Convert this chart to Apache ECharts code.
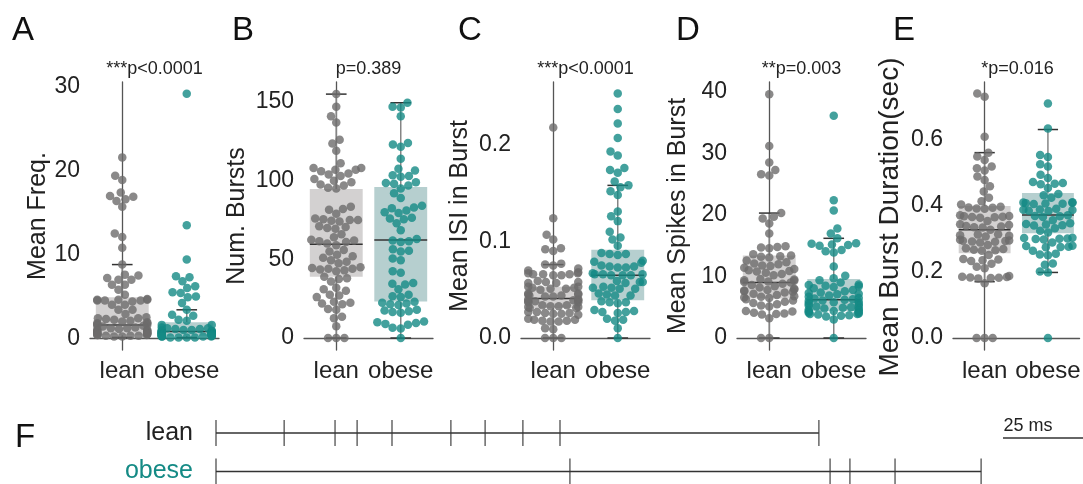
<!DOCTYPE html>
<html><head><meta charset="utf-8">
<script src="https://cdn.jsdelivr.net/npm/echarts@6/dist/echarts.min.js"></script>
<style>html,body{margin:0;padding:0;background:#fff}#c{width:1083px;height:484px}</style>
</head><body><div id="c"></div><script>
// ---------------- data ----------------
const categories = ['lean', 'obese'];

const meanFreqLean = [21.6, 19.4, 18.9, 17.4, 17.0, 16.9, 16.6, 16.4, 15.7, 12.5, 12.1, 10.8, 8.8, 7.6, 7.5, 7.2, 7.0, 7.0, 6.4, 6.4, 5.8, 5.2,
  4.7, 4.6, 4.6, 4.6, 4.5, 4.5, 4.5, 4.4, 4.0, 4.0, 3.4, 3.4, 2.9,
  2.5, 2.4, 2.4, 2.3, 2.2, 2.1, 2.0, 1.9, 1.8, 1.8, 1.7, 1.6, 1.5, 1.5, 1.4, 1.3, 1.2, 1.2, 1.1, 1.0, 1.0, 0.9, 0.9, 0.8, 0.8,
  0.7, 0.7, 0.6, 0.6, 0.5, 0.5, 0.5, 0.4, 0.4, 0.4, 0.3, 0.3, 0.3, 0.2, 0.2];
const meanFreqObese = [29.2, 13.5, 9.4, 7.4, 7.3, 6.8, 6.2, 6.0, 5.5, 5.4, 5.0, 4.9, 4.2, 3.4, 2.8, 2.7, 2.2, 2.1, 1.6, 1.6,
  1.3, 1.2, 1.2, 1.1, 1.1, 1.0, 1.0, 0.9, 0.9, 0.9, 0.8, 0.8, 0.8, 0.7, 0.7, 0.7, 0.6, 0.6, 0.6, 0.6,
  0.5, 0.5, 0.5, 0.5, 0.4, 0.4, 0.4, 0.4, 0.3, 0.3, 0.3, 0.3, 0.2, 0.2, 0.2, 0.2, 0.1, 0.1, 0.1, 0.1];

const numBurstsLean = [155, 147, 141, 137, 126, 123.6, 119, 111, 108, 108, 107, 107, 106, 104.6, 104, 103, 101, 100, 99, 97.6, 97, 95.5, 95,
  83.5, 82, 81.5, 79, 76, 75.5, 75, 75, 74.5, 74, 71, 70.5, 70, 69.5, 66, 64, 62.5, 62, 61.5, 61, 60, 59, 56, 55, 53, 52, 51,
  49.5, 48.5, 47.5, 45, 44.5, 44, 44, 43.5, 43, 42.5, 39, 38, 37.5, 36, 32, 31, 30, 27.5, 27, 26, 23, 22.5, 22, 21.5,
  18.5, 18, 13.5, 12.5, 7.5, 0, 0, 0];
const numBurstsObese = [149.5, 147, 146.5, 141, 124, 123, 121.5, 114, 107.5, 106.5, 103.5, 103, 102.5, 99, 98.5, 98, 97, 95, 92, 89,
  84, 83, 82.5, 81, 80, 79.5, 76.5, 76, 75.5, 73, 68.5, 63, 62, 61.5, 61, 56.5, 55.5, 55, 50.5, 49.5, 42.5, 41.5,
  35, 34.5, 34, 31, 27.5, 26.5, 26, 23, 22.5, 22, 21.5, 21, 18, 17.5, 17, 16.5, 16, 10.5, 10, 9.5, 9, 8.5, 6.5, 6, 0];

const isiLean = [0.218, 0.124, 0.107, 0.102, 0.093, 0.092, 0.090, 0.077, 0.076, 0.075, 0.072, 0.070,
  0.068, 0.067, 0.067, 0.066, 0.066, 0.066, 0.065, 0.065, 0.059, 0.058, 0.058, 0.057, 0.057,
  0.053, 0.053, 0.052, 0.052, 0.051, 0.051, 0.050, 0.046, 0.046, 0.045, 0.045, 0.044, 0.044, 0.043, 0.043,
  0.040, 0.040, 0.039, 0.039, 0.038, 0.038, 0.037, 0.037, 0.034, 0.034, 0.033, 0.033, 0.032, 0.032, 0.031, 0.031,
  0.027, 0.027, 0.026, 0.026, 0.025, 0.025, 0.024, 0.020, 0.019, 0.019, 0.018, 0.018, 0.017, 0.017, 0.010, 0.009, 0, 0, 0];
const isiObese = [0.253, 0.237, 0.222, 0.207, 0.193, 0.189, 0.176, 0.174, 0.171, 0.162, 0.158, 0.156, 0.152, 0.148, 0.131, 0.126, 0.121,
  0.110, 0.104, 0.102, 0.0955, 0.088, 0.087, 0.087, 0.086, 0.080, 0.079, 0.078, 0.075, 0.074, 0.074, 0.073, 0.073,
  0.067, 0.066, 0.066, 0.066, 0.065, 0.065, 0.065, 0.059, 0.058, 0.058, 0.057, 0.053, 0.052, 0.052, 0.051, 0.051,
  0.046, 0.045, 0.044, 0.044, 0.038, 0.037, 0.037, 0.036, 0.029, 0.028, 0.027, 0.027, 0.026, 0.020, 0.019, 0.018, 0.010, 0];

const spikesLean = [39.6, 31.2, 28.5, 27.3, 26.6, 26.4, 20.3, 19.7, 19.4, 18.6, 17.0, 14.9, 14.8, 14.7, 14.6, 13.6, 13.4, 13.3, 13.2, 13.1,
  12.6, 12.3, 12.1, 12.0, 11.8, 11.7, 11.4, 11.2, 11.0, 10.9, 10.8, 10.6, 10.4, 10.2, 9.6, 9.5, 9.4, 9.3, 9.2, 9.1, 9.0,
  8.8, 8.6, 8.4, 8.2, 8.0, 7.9, 7.8, 7.7, 7.6, 7.5, 7.4, 7.2, 7.0, 6.8, 6.7, 6.6, 6.5, 6.3, 6.1, 5.9, 5.7, 5.5, 5.3, 5.1,
  4.4, 4.3, 4.1, 4.0, 3.9, 3.8, 3.2, 0, 0];
const spikesObese = [36.1, 22.4, 20.7, 17.8, 17.0, 16.2, 15.4, 15.3, 15.2, 15.1, 15.0, 14.3, 14.1, 13.9, 11.6, 10.1, 9.7, 9.4, 9.0,
  8.7, 8.6, 8.5, 8.4, 8.3, 8.1, 7.8, 7.6, 7.4, 7.3, 7.2, 7.1, 6.9, 6.7, 6.5, 6.4, 6.3, 6.2, 6.1, 6.0, 5.9, 5.8, 5.6, 5.5,
  5.3, 5.2, 5.1, 5.0, 4.9, 4.8, 4.7, 4.6, 4.5, 4.4, 4.3, 4.2, 4.1, 4.0, 3.9, 3.9, 3.8, 3.7, 3.6, 3.5, 3.0, 0];

const durLean = [0.741, 0.731, 0.61, 0.562, 0.55, 0.54, 0.52, 0.515, 0.508, 0.49, 0.479, 0.46, 0.444, 0.425, 0.415, 0.405,
  0.398, 0.396, 0.395, 0.393, 0.392, 0.372, 0.370, 0.369, 0.368, 0.367, 0.366, 0.365, 0.355, 0.345, 0.343, 0.340, 0.338, 0.336, 0.335,
  0.328, 0.315, 0.314, 0.312, 0.310, 0.308, 0.298, 0.296, 0.295, 0.294, 0.293, 0.292, 0.290, 0.282, 0.272, 0.270, 0.268, 0.266, 0.265,
  0.252, 0.240, 0.238, 0.236, 0.234, 0.225, 0.216, 0.212, 0.188, 0.186, 0.185, 0.184, 0.183, 0.182, 0.181, 0.166, 0, 0, 0];
const durObese = [0.711, 0.635, 0.555, 0.549, 0.527, 0.52, 0.495, 0.485, 0.473, 0.47, 0.468, 0.466, 0.455, 0.437, 0.433, 0.425,
  0.412, 0.411, 0.410, 0.409, 0.408, 0.407, 0.406, 0.392, 0.390, 0.389, 0.388, 0.386, 0.385, 0.372, 0.370, 0.369, 0.367, 0.357,
  0.348, 0.346, 0.344, 0.342, 0.341, 0.333, 0.325, 0.320, 0.304, 0.303, 0.302, 0.301, 0.300, 0.299, 0.29, 0.28, 0.279, 0.277, 0.276, 0.275,
  0.265, 0.256, 0.253, 0.251, 0.226, 0.222, 0.202, 0.199, 0];

// box stats: [lower whisker, Q1, median, Q3, upper whisker]
const boxMeanFreq = [[0.1, 0.35, 1.6, 4.9, 8.8], [0.1, 0.3, 0.8, 1.9, 3.4]];
const boxNumBursts = [[0, 39, 59.6, 94.7, 155], [0, 23.2, 62.3, 96, 149.5]];
const boxIsi = [[0, 0.031, 0.041, 0.053, 0.076], [0, 0.039, 0.065, 0.0914, 0.158]];
const boxSpikes = [[0, 6.4, 9.0, 13.4, 20.3], [0, 4.4, 6.2, 9.6, 16.2]];
const boxDur = [[0.171, 0.257, 0.328, 0.40, 0.562], [0.199, 0.318, 0.373, 0.44, 0.632]];

const ticksMeanFreq = [0, 10, 20, 30];
const ticksNumBursts = [0, 50, 100, 150];
const ticksIsi = [0.0, 0.1, 0.2];
const ticksSpikes = [0, 10, 20, 30, 40];
const ticksDur = [0.0, 0.2, 0.4, 0.6];

const pLabels = ['***p<0.0001', 'p=0.389', '***p<0.0001', '**p=0.003', '*p=0.016'];
const yNames = ['Mean Freq.', 'Num. Bursts', 'Mean ISI in Burst', 'Mean Spikes in Burst', 'Mean Burst Duration(sec)'];
const panelLetters = ['A', 'B', 'C', 'D', 'E'];

// panel F: spike times (ms)
const rasterNames = ['lean', 'obese'];
const spikesLeanMs = [0, 21.3, 37.2, 44.1, 55.0, 73.4, 84.1, 95.9, 107.5, 188.4];
const spikesObeseMs = [0, 110.6, 191.9, 198.1, 212.2, 239.1];
const scaleBarMs = 25;

// ---------------- layout & style ----------------
const FONT = '"Liberation Sans", Arial, Helvetica, sans-serif';
const LEAN = '#6d6c6c', OBESE = '#148a85';
const LEAN_BOX = '#d3d1d1', OBESE_BOX = '#b6cfcf';
const AXIS = '#555555', TEXT = '#222222';
const gridLeft = [90, 304, 521, 737, 953];
const GRID_TOP = 82, GRID_H = 268, GRID_W = 129;
const yNamePos = [[38, 216], [237, 216], [460, 216], [678, 216], [890, 217]];
const yNameSize = [25, 25, 25, 25, 28];
const letterX = [12, 232, 458, 676, 893];
const DOT = 8.5, DOT_GAP = 8.2, SWARM_HALF = 25, BOX_HALF = 0.41, CAP_HALF = 0.16;

const panels = [
  { lean: meanFreqLean, obese: meanFreqObese, box: boxMeanFreq, ticks: ticksMeanFreq, min: -1.4, max: 30.6, split: 3, dec: 0 },
  { lean: numBurstsLean, obese: numBurstsObese, box: boxNumBursts, ticks: ticksNumBursts, min: -7.6, max: 162.7, split: 3, dec: 0 },
  { lean: isiLean, obese: isiObese, box: boxIsi, ticks: ticksIsi, min: -0.0124, max: 0.265, split: 3, dec: 1 },
  { lean: spikesLean, obese: spikesObese, box: boxSpikes, ticks: ticksSpikes, min: -1.95, max: 41.6, split: 4, dec: 0 },
  { lean: durLean, obese: durObese, box: boxDur, ticks: ticksDur, min: -0.036, max: 0.776, split: 4, dec: 1 }
];

// beeswarm layout (pixel space) -> offsets in px
function swarm(values, pxPerY) {
  const order = values.map((v, i) => i).sort((a, b) => values[a] - values[b]);
  const placed = [];
  const out = new Array(values.length);
  const d2 = DOT_GAP * DOT_GAP;
  for (const i of order) {
    const y = values[i] * pxPerY;
    const near = placed.filter(p => Math.abs(p.y - y) < DOT_GAP);
    const cands = [0];
    near.forEach(p => {
      const dx = Math.sqrt(Math.max(0, d2 - (p.y - y) * (p.y - y)));
      cands.push(p.x + dx, p.x - dx);
    });
    cands.sort((a, b) => Math.abs(a) - Math.abs(b) || a - b);
    let chosen = cands[cands.length - 1];
    for (const c of cands) {
      if (near.every(p => (p.x - c) * (p.x - c) + (p.y - y) * (p.y - y) >= d2 - 1e-6)) { chosen = c; break; }
    }
    placed.push({ x: chosen, y });
    out[i] = Math.max(-SWARM_HALF, Math.min(SWARM_HALF, chosen));
  }
  return out;
}

const grids = [], xAxes = [], yAxes = [], series = [];
const pxPerX = GRID_W / 2;

panels.forEach((p, i) => {
  grids.push({ left: gridLeft[i], top: GRID_TOP, width: GRID_W, height: GRID_H });
  xAxes.push({
    type: 'category', gridIndex: i, data: categories, boundaryGap: true,
    axisTick: { show: false },
    axisLine: { lineStyle: { color: AXIS, width: 1.3 } },
    axisLabel: { interval: 0, fontSize: 24, color: TEXT, fontFamily: FONT, margin: 9 }
  });
  xAxes.push({ type: 'value', gridIndex: i, min: -0.5, max: 1.5, show: false });
  yAxes.push({
    type: 'value', gridIndex: i, min: p.min, max: p.max, splitNumber: p.split,
    splitLine: { show: false }, axisTick: { show: false },
    axisLine: { show: true, lineStyle: { color: AXIS, width: 1.3 } },
    axisLabel: {
      fontSize: 23, color: TEXT, fontFamily: FONT, margin: 10, showMinLabel: false, showMaxLabel: false,
      formatter: v => p.ticks.some(t => Math.abs(t - v) < 1e-9) ? v.toFixed(p.dec) : ''
    }
  });
  const pxPerY = GRID_H / (p.max - p.min);
  series.push({
    type: 'custom', xAxisIndex: 2 * i + 1, yAxisIndex: i, z: 1, silent: true,
    data: p.box.map((b, k) => [k].concat(b)),
    renderItem: (params, api) => {
      const x = api.value(0);
      const lo = api.coord([x, api.value(1)]), q1 = api.coord([x, api.value(2)]);
      const med = api.coord([x, api.value(3)]), q3 = api.coord([x, api.value(4)]);
      const hi = api.coord([x, api.value(5)]);
      const left = api.coord([x - BOX_HALF, 0])[0], right = api.coord([x + BOX_HALF, 0])[0];
      const cl = api.coord([x - CAP_HALF, 0])[0], cr = api.coord([x + CAP_HALF, 0])[0];
      const cx = q1[0];
      const fill = x === 0 ? LEAN_BOX : OBESE_BOX;
      const wh = { stroke: '#858585', lineWidth: 1.5 };
      const cap = { stroke: '#333333', lineWidth: 1.5 };
      return {
        type: 'group', children: [
          { type: 'line', shape: { x1: cx, y1: q3[1], x2: cx, y2: hi[1] }, style: wh },
          { type: 'line', shape: { x1: cx, y1: q1[1], x2: cx, y2: lo[1] }, style: wh },
          { type: 'rect', shape: { x: left, y: q3[1], width: right - left, height: q1[1] - q3[1] }, style: { fill: fill } },
          { type: 'line', shape: { x1: left, y1: med[1], x2: right, y2: med[1] }, style: { stroke: '#333333', lineWidth: 1.5 } },
          { type: 'line', shape: { x1: cl, y1: hi[1], x2: cr, y2: hi[1] }, style: cap },
          { type: 'line', shape: { x1: cl, y1: lo[1], x2: cr, y2: lo[1] }, style: cap }
        ]
      };
    }
  });
  [p.lean, p.obese].forEach((vals, k) => {
    const offs = swarm(vals, pxPerY);
    series.push({
      type: 'scatter', xAxisIndex: 2 * i + 1, yAxisIndex: i, z: 3, clip: false,
      symbol: 'circle', symbolSize: DOT,
      itemStyle: { color: k === 0 ? LEAN : OBESE },
      data: vals.map((v, j) => [k + offs[j] / pxPerX, v])
    });
  });
});

// panel F raster
const FI = 5;
const F_PX_PER_MS = 3.2;
const fWidth = 1083 - 216;
const fMaxMs = fWidth / F_PX_PER_MS;
grids.push({ left: 216, top: 433, width: fWidth, height: 40 });
xAxes.push({ type: 'value', gridIndex: FI, min: 0, max: fMaxMs, show: false });
xAxes.push({ type: 'value', gridIndex: FI, min: 0, max: fMaxMs, show: false });
yAxes.push({
  type: 'value', gridIndex: FI, min: 0, max: 1, interval: 1,
  splitLine: { show: false }, axisTick: { show: false }, axisLine: { show: false },
  axisLabel: {
    margin: 23, fontSize: 25, fontFamily: FONT,
    formatter: v => v === 1 ? '{l|' + rasterNames[0] + '}' : (v === 0 ? '{o|' + rasterNames[1] + '}' : ''),
    rich: { l: { color: TEXT, fontSize: 25, fontFamily: FONT }, o: { color: OBESE, fontSize: 25, fontFamily: FONT } }
  }
});
[[spikesLeanMs, 1], [spikesObeseMs, 0]].forEach(([sp, yv]) => {
  series.push({
    type: 'line', xAxisIndex: 2 * FI, yAxisIndex: FI, symbol: 'none', clip: false, silent: true,
    lineStyle: { color: '#333333', width: 1.3 },
    data: [[sp[0], yv], [sp[sp.length - 1], yv]]
  });
  series.push({
    type: 'scatter', xAxisIndex: 2 * FI, yAxisIndex: FI, clip: false, silent: true,
    symbol: 'rect', symbolSize: [1.4, 26], itemStyle: { color: '#333333' },
    data: sp.map(t => [t, yv])
  });
});
series.push({
  type: 'line', xAxisIndex: 2 * FI, yAxisIndex: FI, symbol: 'none', clip: false, silent: true,
  lineStyle: { color: '#333333', width: 1.6 },
  data: [[fMaxMs - scaleBarMs, 0.87], [fMaxMs, 0.87]]
});

// texts
const graphic = [];
panelLetters.forEach((t, i) => graphic.push({
  type: 'text', x: letterX[i], y: 31,
  style: { text: t, fill: '#111111', font: '33px ' + FONT, align: 'left', verticalAlign: 'middle', textAlign: 'left', textVerticalAlign: 'middle' }
}));
pLabels.forEach((t, i) => graphic.push({
  type: 'text', x: gridLeft[i] + GRID_W / 2, y: 69,
  style: { text: t, fill: TEXT, font: '18px ' + FONT, align: 'center', verticalAlign: 'middle', textAlign: 'center', textVerticalAlign: 'middle' }
}));
yNames.forEach((t, i) => graphic.push({
  type: 'text', x: yNamePos[i][0], y: yNamePos[i][1], rotation: Math.PI / 2,
  style: { text: t, fill: TEXT, font: yNameSize[i] + 'px ' + FONT, align: 'center', verticalAlign: 'middle', textAlign: 'center', textVerticalAlign: 'middle' }
}));
graphic.push({
  type: 'text', x: 15, y: 438,
  style: { text: 'F', fill: '#111111', font: '33px ' + FONT, align: 'left', verticalAlign: 'middle', textAlign: 'left', textVerticalAlign: 'middle' }
});
graphic.push({
  type: 'text', x: 1028, y: 426,
  style: { text: scaleBarMs + ' ms', fill: TEXT, font: '18px ' + FONT, align: 'center', verticalAlign: 'middle', textAlign: 'center', textVerticalAlign: 'middle' }
});

const chart = echarts.init(document.getElementById('c'), null, { renderer: 'canvas' });
chart.setOption({
  animation: false,
  backgroundColor: '#ffffff',
  grid: grids, xAxis: xAxes, yAxis: yAxes, series: series, graphic: graphic
});
</script></body></html>
